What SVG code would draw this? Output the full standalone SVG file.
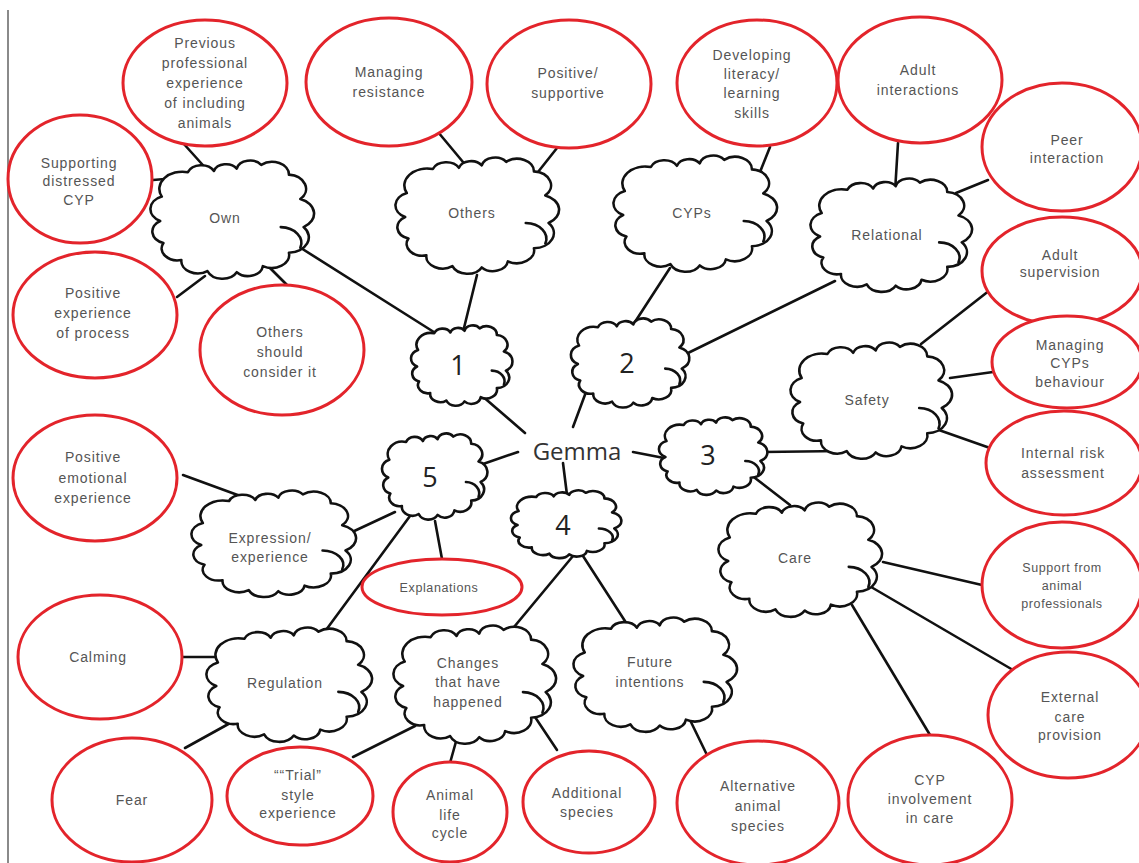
<svg xmlns="http://www.w3.org/2000/svg" xmlns:xlink="http://www.w3.org/1999/xlink" width="1139" height="863" viewBox="0 0 1139 863">
  <style>
    .bubble { fill: #ffffff; stroke: #e3242b; stroke-width: 3; }
    .cloud { fill: #ffffff; stroke: #111111; stroke-width: 2.6; stroke-linejoin: round; }
    .hook { fill: none; stroke: #111111; stroke-width: 2.6; stroke-linecap: round; }
    .link { stroke: #111111; stroke-width: 2.6; stroke-linecap: round; }
    .lbl { font-family: "Liberation Sans", Arial, sans-serif; font-size: 14px; letter-spacing: 0.9px; fill: #555555; text-anchor: middle; }
    .small { font-size: 12.5px; letter-spacing: 0.6px; }
    .num { font-family: "Open Sans", "Liberation Sans", sans-serif; font-size: 27px; fill: #222222; text-anchor: middle; }
    .hub { font-family: "Open Sans", "Liberation Sans", sans-serif; font-size: 24px; fill: #333333; text-anchor: middle; }
  </style>
  <defs>
    <!-- unit cloud outline in a 100x100 box, scaled per node -->
    <g id="cloudShape">
      <path class="cloud" vector-effect="non-scaling-stroke" d="M6,30 A14.1,14.1 0 0 1 22,10 A8.8,8.8 0 0 1 38,9 A7.8,7.8 0 0 1 52,7 A8.4,8.4 0 0 1 67,4 A10.3,10.3 0 0 1 84,12 A11.7,11.7 0 0 1 91,32 A12.7,12.7 0 0 1 93,55 A12.6,12.6 0 0 1 84,76 A10.7,10.7 0 0 1 68,87 A9.2,9.2 0 0 1 52,92 A9.9,9.9 0 0 1 34,91 A10.1,10.1 0 0 1 18,82 A9.8,9.8 0 0 1 7,68 A10,10 0 0 1 5,50 A11,11 0 0 1 6,30 Z"/>
      <path class="hook" vector-effect="non-scaling-stroke" d="M79,55 A13,13 0 0 1 91,72"/>
    </g>
  </defs>

  <rect width="1139" height="863" fill="#ffffff"/>
  <line x1="8" y1="10" x2="8" y2="863" stroke="#8a8a8a" stroke-width="2"/>

  <!-- connectors -->
  <g id="connectors">
    <line class="link" x1="183" y1="143" x2="210" y2="173"/>
    <line class="link" x1="153" y1="180" x2="177" y2="178"/>
    <line class="link" x1="177" y1="297" x2="205" y2="276"/>
    <line class="link" x1="268" y1="266" x2="290" y2="288"/>
    <line class="link" x1="293" y1="243" x2="437" y2="334"/>
    <line class="link" x1="438" y1="132" x2="463" y2="162"/>
    <line class="link" x1="557" y1="148" x2="538" y2="172"/>
    <line class="link" x1="477" y1="275" x2="463" y2="332"/>
    <line class="link" x1="770" y1="147" x2="760" y2="172"/>
    <line class="link" x1="670" y1="268" x2="633" y2="325"/>
    <line class="link" x1="898" y1="143" x2="895" y2="192"/>
    <line class="link" x1="988" y1="180" x2="956" y2="193"/>
    <line class="link" x1="835" y1="281" x2="688" y2="353"/>
    <line class="link" x1="990" y1="290" x2="921" y2="344"/>
    <line class="link" x1="993" y1="372" x2="950" y2="378"/>
    <line class="link" x1="990" y1="448" x2="936" y2="429"/>
    <line class="link" x1="763" y1="452" x2="842" y2="451"/>
    <line class="link" x1="755" y1="478" x2="790" y2="505"/>
    <line class="link" x1="883" y1="562" x2="982" y2="585"/>
    <line class="link" x1="866" y1="584" x2="1013" y2="670"/>
    <line class="link" x1="852" y1="605" x2="930" y2="735"/>
    <line class="link" x1="481" y1="395" x2="525" y2="433"/>
    <line class="link" x1="586" y1="392" x2="573" y2="427"/>
    <line class="link" x1="633" y1="452" x2="664" y2="458"/>
    <line class="link" x1="563" y1="463" x2="567" y2="495"/>
    <line class="link" x1="518" y1="452" x2="483" y2="464"/>
    <line class="link" x1="395" y1="512" x2="350" y2="533"/>
    <line class="link" x1="410" y1="516" x2="326" y2="630"/>
    <line class="link" x1="435" y1="521" x2="442" y2="559"/>
    <line class="link" x1="183" y1="475" x2="254" y2="501"/>
    <line class="link" x1="183" y1="657" x2="235" y2="657"/>
    <line class="link" x1="185" y1="748" x2="232" y2="722"/>
    <line class="link" x1="353" y1="757" x2="415" y2="726"/>
    <line class="link" x1="573" y1="556" x2="504" y2="639"/>
    <line class="link" x1="583" y1="556" x2="634" y2="635"/>
    <line class="link" x1="457" y1="738" x2="450" y2="763"/>
    <line class="link" x1="531" y1="711" x2="557" y2="750"/>
    <line class="link" x1="690" y1="720" x2="707" y2="755"/>
  </g>

  <!-- central label -->
  <g id="gemma">
    <text class="hub" x="577" y="460">Gemma</text>
  </g>

  <!-- numbered theme clouds -->
  <g id="theme-1">
    <use xlink:href="#cloudShape" transform="translate(412,325) scale(1.01,0.83)"/>
    <text class="num" x="458" y="375">1</text>
  </g>
  <g id="theme-2">
    <use xlink:href="#cloudShape" transform="translate(572,318) scale(1.18,0.92)"/>
    <text class="num" x="627" y="373">2</text>
  </g>
  <g id="theme-3">
    <use xlink:href="#cloudShape" transform="translate(660,417) scale(1.08,0.80)"/>
    <text class="num" x="708" y="465">3</text>
  </g>
  <g id="theme-4">
    <use xlink:href="#cloudShape" transform="translate(512,490) scale(1.10,0.70)"/>
    <text class="num" x="563" y="535">4</text>
  </g>
  <g id="theme-5">
    <use xlink:href="#cloudShape" transform="translate(383,433) scale(1.05,0.89)"/>
    <text class="num" x="430" y="487">5</text>
  </g>

  <!-- subtheme clouds -->
  <g id="own">
    <use xlink:href="#cloudShape" transform="translate(152,160) scale(1.63,1.22)"/>
    <text class="lbl" x="225" y="223">Own</text>
  </g>
  <g id="others">
    <use xlink:href="#cloudShape" transform="translate(397,157) scale(1.63,1.20)"/>
    <text class="lbl" x="472" y="218">Others</text>
  </g>
  <g id="cyps">
    <use xlink:href="#cloudShape" transform="translate(615,155) scale(1.63,1.20)"/>
    <text class="lbl" x="692" y="218">CYPs</text>
  </g>
  <g id="relational">
    <use xlink:href="#cloudShape" transform="translate(812,178) scale(1.61,1.17)"/>
    <text class="lbl" x="887" y="240">Relational</text>
  </g>
  <g id="safety">
    <use xlink:href="#cloudShape" transform="translate(792,342) scale(1.61,1.20)"/>
    <text class="lbl" x="867" y="405">Safety</text>
  </g>
  <g id="care">
    <use xlink:href="#cloudShape" transform="translate(720,502) scale(1.63,1.18)"/>
    <text class="lbl" x="795" y="563">Care</text>
  </g>
  <g id="expression">
    <use xlink:href="#cloudShape" transform="translate(193,490) scale(1.64,1.10)"/>
    <text class="lbl" x="270" y="543">Expression/</text>
    <text class="lbl" x="270" y="562">experience</text>
  </g>
  <g id="regulation">
    <use xlink:href="#cloudShape" transform="translate(208,627) scale(1.65,1.18)"/>
    <text class="lbl" x="285" y="688">Regulation</text>
  </g>
  <g id="changes">
    <use xlink:href="#cloudShape" transform="translate(395,625) scale(1.62,1.22)"/>
    <text class="lbl" x="468" y="668">Changes</text>
    <text class="lbl" x="468" y="687">that have</text>
    <text class="lbl" x="468" y="707">happened</text>
  </g>
  <g id="future">
    <use xlink:href="#cloudShape" transform="translate(575,617) scale(1.63,1.18)"/>
    <text class="lbl" x="650" y="667">Future</text>
    <text class="lbl" x="650" y="687">intentions</text>
  </g>

  <!-- leaf bubbles -->
  <g id="previous-experience">
    <ellipse class="bubble" cx="205" cy="83" rx="82" ry="63"/>
    <text class="lbl" x="205" y="48">Previous</text>
    <text class="lbl" x="205" y="68">professional</text>
    <text class="lbl" x="205" y="88">experience</text>
    <text class="lbl" x="205" y="108">of including</text>
    <text class="lbl" x="205" y="128">animals</text>
  </g>
  <g id="supporting-distressed">
    <ellipse class="bubble" cx="80" cy="179" rx="72" ry="64"/>
    <text class="lbl" x="79" y="168">Supporting</text>
    <text class="lbl" x="79" y="186">distressed</text>
    <text class="lbl" x="79" y="205">CYP</text>
  </g>
  <g id="positive-process">
    <ellipse class="bubble" cx="95" cy="315" rx="82" ry="63"/>
    <text class="lbl" x="93" y="298">Positive</text>
    <text class="lbl" x="93" y="318">experience</text>
    <text class="lbl" x="93" y="338">of process</text>
  </g>
  <g id="others-consider">
    <ellipse class="bubble" cx="282" cy="350" rx="82" ry="65"/>
    <text class="lbl" x="280" y="337">Others</text>
    <text class="lbl" x="280" y="357">should</text>
    <text class="lbl" x="280" y="377">consider it</text>
  </g>
  <g id="managing-resistance">
    <ellipse class="bubble" cx="389" cy="82" rx="83" ry="64"/>
    <text class="lbl" x="389" y="77">Managing</text>
    <text class="lbl" x="389" y="97">resistance</text>
  </g>
  <g id="positive-supportive">
    <ellipse class="bubble" cx="569" cy="84" rx="82" ry="64"/>
    <text class="lbl" x="568" y="78">Positive/</text>
    <text class="lbl" x="568" y="98">supportive</text>
  </g>
  <g id="developing-literacy">
    <ellipse class="bubble" cx="757" cy="83" rx="80" ry="63"/>
    <text class="lbl" x="752" y="60">Developing</text>
    <text class="lbl" x="752" y="79">literacy/</text>
    <text class="lbl" x="752" y="98">learning</text>
    <text class="lbl" x="752" y="118">skills</text>
  </g>
  <g id="adult-interactions">
    <ellipse class="bubble" cx="920" cy="80" rx="82" ry="63"/>
    <text class="lbl" x="918" y="75">Adult</text>
    <text class="lbl" x="918" y="95">interactions</text>
  </g>
  <g id="peer-interaction">
    <ellipse class="bubble" cx="1062" cy="147" rx="80" ry="64"/>
    <text class="lbl" x="1067" y="145">Peer</text>
    <text class="lbl" x="1067" y="163">interaction</text>
  </g>
  <g id="adult-supervision">
    <ellipse class="bubble" cx="1062" cy="271" rx="80" ry="54"/>
    <text class="lbl" x="1060" y="260">Adult</text>
    <text class="lbl" x="1060" y="277">supervision</text>
  </g>
  <g id="managing-behaviour">
    <ellipse class="bubble" cx="1067" cy="362" rx="75" ry="46"/>
    <text class="lbl" x="1070" y="350">Managing</text>
    <text class="lbl" x="1070" y="368">CYPs</text>
    <text class="lbl" x="1070" y="387">behaviour</text>
  </g>
  <g id="internal-risk">
    <ellipse class="bubble" cx="1064" cy="463" rx="78" ry="52"/>
    <text class="lbl" x="1063" y="458">Internal risk</text>
    <text class="lbl" x="1063" y="478">assessment</text>
  </g>
  <g id="animal-professionals">
    <ellipse class="bubble" cx="1062" cy="585" rx="80" ry="63"/>
    <text class="lbl small" x="1062" y="572">Support from</text>
    <text class="lbl small" x="1062" y="590">animal</text>
    <text class="lbl small" x="1062" y="608">professionals</text>
  </g>
  <g id="external-care">
    <ellipse class="bubble" cx="1068" cy="715" rx="80" ry="63"/>
    <text class="lbl" x="1070" y="702">External</text>
    <text class="lbl" x="1070" y="722">care</text>
    <text class="lbl" x="1070" y="740">provision</text>
  </g>
  <g id="cyp-involvement">
    <ellipse class="bubble" cx="930" cy="800" rx="82" ry="65"/>
    <text class="lbl" x="930" y="785">CYP</text>
    <text class="lbl" x="930" y="804">involvement</text>
    <text class="lbl" x="930" y="823">in care</text>
  </g>
  <g id="alternative-species">
    <ellipse class="bubble" cx="758" cy="803" rx="81" ry="62"/>
    <text class="lbl" x="758" y="791">Alternative</text>
    <text class="lbl" x="758" y="811">animal</text>
    <text class="lbl" x="758" y="831">species</text>
  </g>
  <g id="additional-species">
    <ellipse class="bubble" cx="589" cy="802" rx="66" ry="51"/>
    <text class="lbl" x="587" y="798">Additional</text>
    <text class="lbl" x="587" y="817">species</text>
  </g>
  <g id="life-cycle">
    <ellipse class="bubble" cx="450" cy="812" rx="57" ry="50"/>
    <text class="lbl" x="450" y="800">Animal</text>
    <text class="lbl" x="450" y="820">life</text>
    <text class="lbl" x="450" y="838">cycle</text>
  </g>
  <g id="trial-experience">
    <ellipse class="bubble" cx="300" cy="796" rx="73" ry="49"/>
    <text class="lbl" x="298" y="780">““Trial”</text>
    <text class="lbl" x="298" y="800">style</text>
    <text class="lbl" x="298" y="818">experience</text>
  </g>
  <g id="fear">
    <ellipse class="bubble" cx="132" cy="800" rx="80" ry="62"/>
    <text class="lbl" x="132" y="805">Fear</text>
  </g>
  <g id="calming">
    <ellipse class="bubble" cx="100" cy="657" rx="82" ry="62"/>
    <text class="lbl" x="98" y="662">Calming</text>
  </g>
  <g id="explanations">
    <ellipse class="bubble" cx="442" cy="587" rx="80" ry="28"/>
    <text class="lbl small" x="439" y="592">Explanations</text>
  </g>
  <g id="positive-emotional">
    <ellipse class="bubble" cx="95" cy="478" rx="82" ry="63"/>
    <text class="lbl" x="93" y="462">Positive</text>
    <text class="lbl" x="93" y="483">emotional</text>
    <text class="lbl" x="93" y="503">experience</text>
  </g>
</svg>
